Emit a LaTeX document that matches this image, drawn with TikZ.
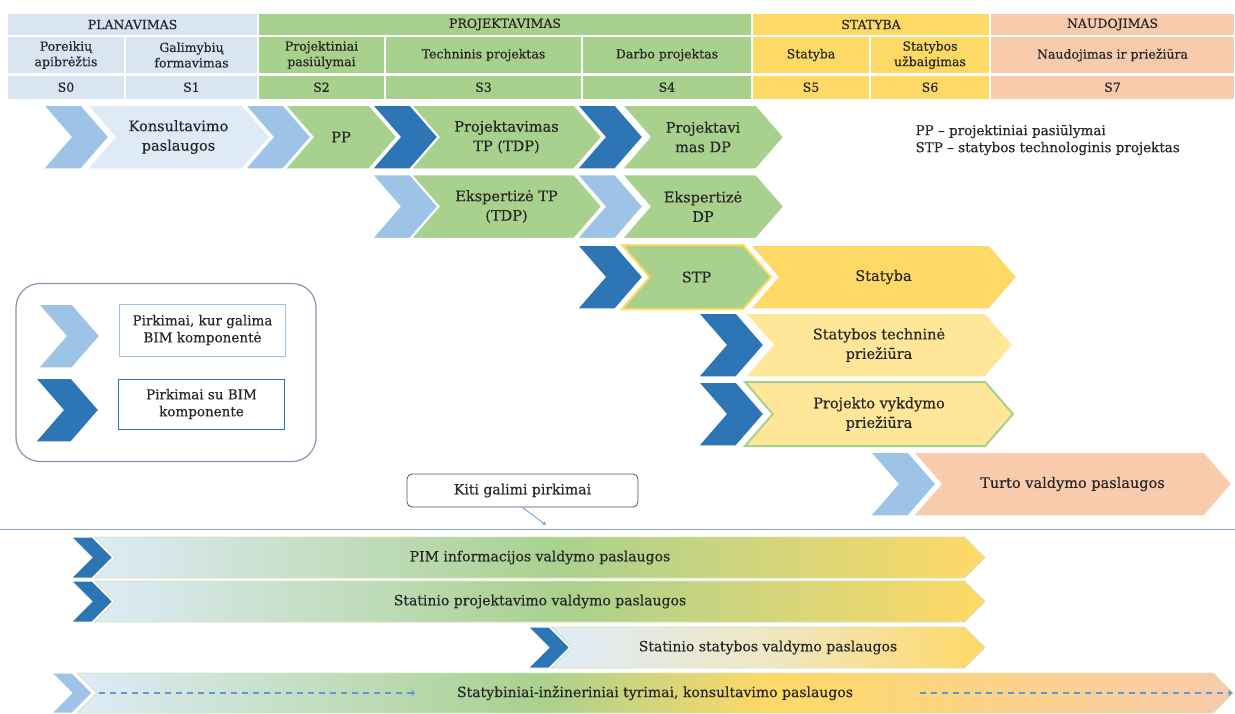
\documentclass[tikz,border=0pt]{standalone}
\usepackage{fontspec}
\setmainfont{DejaVu Serif}[FakeBold=0.35]
\usetikzlibrary{shapes.symbols, arrows, positioning}

\definecolor{cPlan}{HTML}{DAE5F3}
\definecolor{cLBlue}{HTML}{DEEBF7}
\definecolor{cGreen}{HTML}{A9D18E}
\definecolor{cYel}{HTML}{FFD966}
\definecolor{cLYel}{HTML}{FFE699}
\definecolor{cPeach}{HTML}{F8CBAD}
\definecolor{cCream}{HTML}{EFE7C4}
\definecolor{cChevL}{HTML}{9DC3E6}
\definecolor{cChevD}{HTML}{2E75B6}
\definecolor{cTxt}{HTML}{262626}
\definecolor{cSep}{HTML}{8FAADC}
\definecolor{cLeg}{HTML}{8497B0}
\definecolor{cKiti}{HTML}{44546A}
\definecolor{cBarLine}{HTML}{D5E2B8}
\definecolor{cArrow}{HTML}{5B9BD5}

\pgfdeclarehorizontalshading{barPim}{100bp}{color(0bp)=(cLBlue); color(25bp)=(cLBlue); color(51bp)=(cGreen); color(75bp)=(cYel); color(100bp)=(cYel)}
\pgfdeclarehorizontalshading{barStat}{100bp}{color(0bp)=(cLBlue); color(25bp)=(cLBlue); color(50bp)=(cCream); color(75bp)=(cYel); color(100bp)=(cYel)}
\pgfdeclarehorizontalshading{barTyr}{100bp}{color(0bp)=(cLBlue); color(25bp)=(cLBlue); color(45bp)=(cGreen); color(55bp)=(cYel); color(75bp)=(cPeach); color(100bp)=(cPeach)}

\newcommand{\hdfont}{\fontsize{12.5}{15.5}\selectfont}
\newcommand{\chfont}{\fontsize{14.5}{19.5}\selectfont}
\newcommand{\lgfont}{\fontsize{13.5}{17}\selectfont}
\newcommand{\barfont}{\fontsize{14}{17}\selectfont}

\begin{document}
\begin{tikzpicture}[
    x=1pt, y=-1pt,
    every node/.style={text=cTxt},
    hdcell/.style={draw=white, line width=1.2pt, inner sep=0pt, align=center, font=\hdfont, minimum height=23pt},
    subcell/.style={hdcell, minimum height=38pt},
    scell/.style={hdcell, minimum height=24pt},
    stage/.style={shape=signal, signal from=west, signal to=east, signal pointer angle=98, minimum height=64pt, inner sep=0pt, draw=white, line width=1.5pt, align=center, font=\chfont},
    chev/.style={shape=signal, signal from=west, signal to=east, signal pointer angle=98, minimum width=66pt, minimum height=64pt, inner sep=0pt, draw=white, line width=1.5pt},
    lightchev/.style={chev, fill=cChevL},
    darkchev/.style={chev, fill=cChevD},
    bar/.style={shape=signal, signal from=west, signal to=east, signal pointer angle=90, minimum height=41pt, inner sep=0pt, draw=cBarLine, line width=0.8pt, shade, font=\barfont},
    barchev/.style={shape=signal, signal from=west, signal to=east, signal pointer angle=90, minimum width=34pt, minimum height=41pt, inner sep=0pt, draw=white, line width=1pt},
    legtxt/.style={draw, line width=1pt, fill=white, minimum width=166pt, minimum height=52pt, align=center, font=\lgfont},
    dasharrow/.style={->, cArrow, dashed, dash pattern=on 6pt off 5pt, line width=1.2pt}
]
\useasboundingbox (0,0) rectangle (1235,713);

% Lentele: etapai
\node[hdcell, fill=cPlan, minimum width=251pt] (hPlan) at (132.5,24.5) {PLANAVIMAS};
\node[hdcell, fill=cGreen, minimum width=494pt] (hProj) at (505,24.5) {PROJEKTAVIMAS};
\node[hdcell, fill=cYel, minimum width=238pt] (hStat) at (871,24.5) {STATYBA};
\node[hdcell, fill=cPeach, minimum width=245pt] (hNaud) at (1112.5,24.5) {NAUDOJIMAS};

\node[subcell, fill=cPlan, minimum width=118pt] (t0) at (66,55) {Poreikių\\apibrėžtis};
\node[subcell, fill=cPlan, minimum width=133pt] (t1) at (191.5,55) {Galimybių\\formavimas};
\node[subcell, fill=cGreen, minimum width=127pt] (t2) at (321.5,55) {Projektiniai\\pasiūlymai};
\node[subcell, fill=cGreen, minimum width=197pt] (t3) at (483.5,55) {Techninis projektas};
\node[subcell, fill=cGreen, minimum width=170pt] (t4) at (667,55) {Darbo projektas};
\node[subcell, fill=cYel, minimum width=118pt] (t5) at (811,55) {Statyba};
\node[subcell, fill=cYel, minimum width=120pt] (t6) at (930,55) {Statybos\\užbaigimas};
\node[subcell, fill=cPeach, minimum width=245pt] (t7) at (1112.5,55) {Naudojimas ir priežiūra};

\node[scell, fill=cPlan, minimum width=118pt, below=0pt of t0] (s0) {S0};
\node[scell, fill=cPlan, minimum width=133pt, below=0pt of t1] (s1) {S1};
\node[scell, fill=cGreen, minimum width=127pt, below=0pt of t2] (s2) {S2};
\node[scell, fill=cGreen, minimum width=197pt, below=0pt of t3] (s3) {S3};
\node[scell, fill=cGreen, minimum width=170pt, below=0pt of t4] (s4) {S4};
\node[scell, fill=cYel, minimum width=118pt, below=0pt of t5] (s5) {S5};
\node[scell, fill=cYel, minimum width=120pt, below=0pt of t6] (s6) {S6};
\node[scell, fill=cPeach, minimum width=245pt, below=0pt of t7] (s7) {S7};

% 1 eilute
\node[stage, fill=cLBlue, minimum width=183pt] (konsult) at (178.5,137) {Konsultavimo\\paslaugos};
\node[stage, fill=cGreen, minimum width=112pt] (pp) at (341,137) {PP};
\node[stage, fill=cGreen, minimum width=191pt] (projTP) at (506.5,137) {Projektavimas\\TP (TDP)};
\node[stage, fill=cGreen, minimum width=162pt] (projDP) at (703,137) {Projektavi\\mas DP};
\node[lightchev] (c11) at (76,137) {};
\node[lightchev] (c12) at (278,137) {};
\node[darkchev] (c13) at (405,137) {};
\node[darkchev] (c14) at (610,137) {};

% 2 eilute
\node[stage, fill=cGreen, minimum width=191pt] (eksTP) at (506.5,206.5) {Ekspertizė TP\\(TDP)};
\node[stage, fill=cGreen, minimum width=162pt] (eksDP) at (703,206.5) {Ekspertizė\\DP};
\node[lightchev] (c21) at (405,206.5) {};
\node[lightchev] (c22) at (610,206.5) {};

% Statyba
\node[stage, fill=cYel, minimum width=267pt] (statyba) at (883.5,277) {Statyba};
\node[stage, fill=cGreen, draw=cYel, line width=2pt, preaction={draw=white, line width=5pt}, minimum width=149pt] (stp) at (696.5,277) {STP};
\node[darkchev] (c31) at (610,277) {};

\node[stage, fill=cLYel, minimum width=268pt] (techPr) at (879,345) {Statybos techninė\\priežiūra};
\node[darkchev] (c41) at (731,345) {};

\node[stage, fill=cLYel, draw=cGreen, line width=2pt, preaction={draw=white, line width=5pt}, minimum width=268pt] (vykdPr) at (879,414) {Projekto vykdymo\\priežiūra};
\node[darkchev] (c51) at (731,414) {};

% Naudojimas
\node[stage, fill=cPeach, minimum width=319pt] (turto) at (1072.5,484) {Turto valdymo paslaugos};
\node[lightchev] (c61) at (903,484) {};

% Santrumpos
\node[font=\lgfont, align=left, anchor=west] (santr) at (912,140) {PP – projektiniai pasiūlymai\\STP – statybos technologinis projektas};

% Legenda
\node[draw=cLeg, line width=1.2pt, rounded corners=24pt, minimum width=300pt, minimum height=178pt] (legenda) at (166,372.5) {};
\node[lightchev, minimum width=62pt] (legL) at (69,336) {};
\node[darkchev, minimum width=64pt] (legD) at (67,410) {};
\node[legtxt, draw=cChevL, right=18pt of legL, yshift=6pt] (legLtxt) {Pirkimai, kur galima\\BIM komponentė};
\node[legtxt, draw=cChevD, right=18pt of legD, yshift=6pt, minimum height=50pt] (legDtxt) {Pirkimai su BIM\\komponente};

% Kiti pirkimai
\node[draw=cKiti, line width=0.8pt, rounded corners=5pt, fill=white, minimum width=231pt, minimum height=33pt, font=\barfont] (kiti) at (522.5,490.5) {Kiti galimi pirkimai};
\coordinate (kitiGal) at (546,525);
\draw[-stealth, cArrow, line width=0.8pt] (kiti.south) -- (kitiGal);

\draw[cSep, line width=0.8pt] (0,529) -- (1235,529);

% Valdymo paslaugos
\node[bar, shading=barPim, minimum width=890pt] (pim) at (540,557.5) {PIM informacijos valdymo paslaugos};
\node[barchev, fill=cChevD] (b1) at (92,557.5) {};
\node[bar, shading=barPim, minimum width=890pt] (projVald) at (540,601.5) {Statinio projektavimo valdymo paslaugos};
\node[barchev, fill=cChevD] (b2) at (92,601.5) {};
\node[bar, shading=barStat, minimum width=434pt] (statVald) at (768,647.5) {Statinio statybos valdymo paslaugos};
\node[barchev, fill=cChevD] (b3) at (549,647.5) {};
\node[bar, shading=barTyr, minimum width=1156pt, minimum height=40pt] (tyrimai) at (655,693) {Statybiniai-inžineriniai tyrimai, konsultavimo paslaugos};
\node[barchev, fill=cChevL, minimum width=38pt, minimum height=40pt] (b4) at (72,693) {};

\coordinate (d1a) at (99,693);
\coordinate (d1b) at (415,693);
\coordinate (d2a) at (920,693);
\coordinate (d2b) at (1232,693);
\draw[dasharrow] (d1a) -- (d1b);
\draw[dasharrow] (d2a) -- (d2b);

\end{tikzpicture}
\end{document}
